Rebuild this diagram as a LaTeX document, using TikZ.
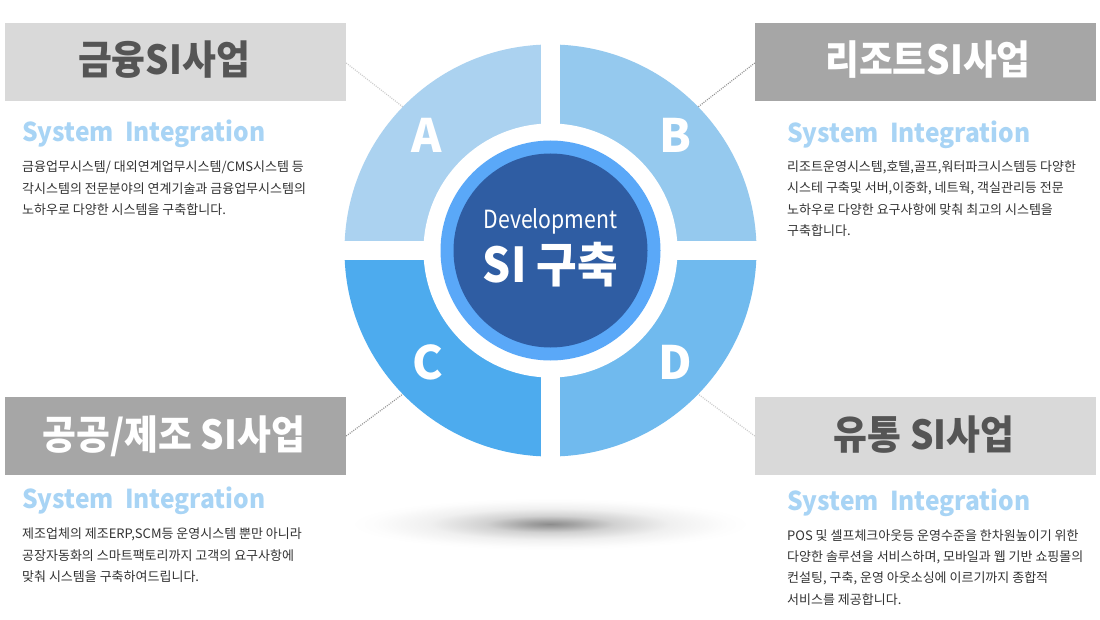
\documentclass[tikz,border=0pt]{standalone}
\usepackage{fontspec}
\setmainfont{Noto Sans CJK KR}
\newfontfamily\krfont{Noto Sans CJK KR}
\newfontfamily\titlefont[FakeStretch=0.92]{Noto Sans CJK KR}
\newfontfamily\devfont[FakeStretch=0.85]{Noto Sans CJK KR}
\newfontfamily\sifont[FakeStretch=0.92]{Noto Sans CJK KR}
\newfontfamily\headfont[FakeStretch=0.945]{Noto Sans CJK KR}
\definecolor{qA}{RGB}{171,210,240}
\definecolor{qB}{RGB}{149,201,238}
\definecolor{qC}{RGB}{77,171,238}
\definecolor{qD}{RGB}{112,186,238}
\definecolor{ringblue}{RGB}{90,168,248}
\definecolor{coreblue}{RGB}{47,93,163}
\definecolor{boxlight}{RGB}{217,217,217}
\definecolor{boxdark}{RGB}{166,166,166}
\definecolor{titledark}{RGB}{85,85,85}
\definecolor{sicolor}{RGB}{168,212,245}
\definecolor{bodytext}{RGB}{51,51,51}
\pgfdeclareradialshading{floorshadow}{\pgfpoint{0bp}{0bp}}{%
  color(0bp)=(black!45); color(3bp)=(black!36); color(8bp)=(black!18);
  color(15bp)=(black!6); color(22bp)=(black!1); color(25bp)=(white); color(50bp)=(white)}
\begin{document}
\begin{tikzpicture}[x=1pt,y=-1pt,
  titlebox/.style={minimum width=341pt,minimum height=78pt,inner sep=0pt},
  lightbox/.style={titlebox,fill=boxlight},
  darkbox/.style={titlebox,fill=boxdark},
  titletext/.style={anchor=base,inner sep=0pt,font=\titlefont\bfseries\fontsize{40}{44}\selectfont},
  sihead/.style={anchor=base west,inner sep=0pt,text=sicolor,
    font=\headfont\bfseries\fontsize{26}{30}\selectfont},
  bodyline/.style={anchor=base west,inner sep=0pt,text=bodytext,
    font=\krfont\fontsize{13}{16}\selectfont},
  letter/.style={anchor=base,inner sep=0pt,text=white,
    font=\krfont\bfseries\fontsize{46}{50}\selectfont},
  dotline/.style={dash pattern=on 1pt off 1.2pt,line width=1.2pt}]
\useasboundingbox (0,0) rectangle (1100,620);
\fill[white] (0,0) rectangle (1100,620);
% floor shadow
\shade[shading=floorshadow] (550,524) ellipse [x radius=200pt, y radius=26pt];
% title boxes
\node[lightbox] (tA) at (175.5,62) {};
\node[darkbox] (tB) at (925.5,62) {};
\node[darkbox] (tC) at (175.5,436) {};
\node[lightbox] (tD) at (925.5,436) {};
\node[titletext,text=titledark] (xA) at (164,74.2) {금융SI사업};
\node[titletext,text=white] (xB) at (928,74.2) {리조트SI사업};
\node[titletext,text=white] (xC) at (174,449) {공공/제조 SI사업};
\node[titletext,text=titledark] (xD) at (924,449) {유통 SI사업};
% circle anchors for dotted connectors
\coordinate (c) at (550.5,250.5);
\coordinate (eA) at (403,107);
\coordinate (eB) at (698,107);
\coordinate (eC) at (403,394);
\coordinate (eD) at (698,394);
\draw[dotline,black!20] ([yshift=-1pt]tA.east) -- (eA);
\draw[dotline,black!42] ([yshift=-1pt]tB.west) -- (eB);
\draw[dotline,black!42] (tC.east) -- (eC);
\draw[dotline,black!20] (tD.west) -- (eD);
% quadrants
\begin{scope}
  \clip (c) circle [radius=206pt];
  \fill[qA] (340,40) rectangle (c);
  \fill[qB] (761,40) rectangle (c);
  \fill[qC] (340,461) rectangle (c);
  \fill[qD] (761,461) rectangle (c);
\end{scope}
\fill[white] (541,42) rectangle (560,459);
\fill[white] (342,241) rectangle (759,260);
\fill[white] (c) circle [radius=127pt];
\fill[ringblue] (c) circle [radius=110pt];
\fill[coreblue] (c) circle [radius=97pt];
% letters
\node[letter] (lA) at (427,152.7) {A};
\node[letter] (lB) at (675,152.7) {B};
\node[letter] (lC) at (428,379.5) {C};
\node[letter] (lD) at (675.5,379) {D};
% center text
\node[anchor=base,inner sep=0pt,text=white,font=\devfont\fontsize{25}{30}\selectfont] (dev) at (550.5,228.3) {Development};
\node[anchor=base,inner sep=0pt,text=white,font=\sifont\bfseries\fontsize{48}{52}\selectfont] (si) at (550.5,283) {SI 구축};
% A text
\node[sihead] (hA) at (22,142) {System\ \ Integration};
\node[bodyline] (a1) at (22,172) {금융업무시스템/ 대외연계업무시스템/CMS시스템 등};
\node[bodyline] (a2) at (22,193.5) {각시스템의 전문분야의 연계기술과 금융업무시스템의};
\node[bodyline] (a3) at (22,215) {노하우로 다양한 시스템을 구축합니다.};
% B text
\node[sihead] (hB) at (787,142.3) {System\ \ Integration};
\node[bodyline] (b1) at (787,171.5) {리조트운영시스템,호텔,골프,워터파크시스템등 다양한};
\node[bodyline] (b2) at (787,193) {시스테 구축및 서버,이중화, 네트웍, 객실관리등 전문};
\node[bodyline] (b3) at (787,214.5) {노하우로 다양한 요구사항에 맞춰 최고의 시스템을};
\node[bodyline] (b4) at (787,236) {구축합니다.};
% C text
\node[sihead] (hC) at (22,508.3) {System\ \ Integration};
\node[bodyline] (c1) at (22,538.5) {제조업체의 제조ERP,SCM등 운영시스템 뿐만 아니라};
\node[bodyline] (c2) at (22,560) {공장자동화의 스마트팩토리까지 고객의 요구사항에};
\node[bodyline] (c3) at (22,581) {맞춰 시스템을 구축하여드립니다.};
% D text
\node[sihead] (hD) at (787,510) {System\ \ Integration};
\node[bodyline] (d1) at (787,540) {POS 및 셀프체크아웃등 운영수준을 한차원높이기 위한};
\node[bodyline] (d2) at (787,561.5) {다양한 솔루션을 서비스하며, 모바일과 웹 기반 쇼핑몰의};
\node[bodyline] (d3) at (787,582.5) {컨설팅, 구축, 운영 아웃소싱에 이르기까지 종합적};
\node[bodyline] (d4) at (787,604) {서비스를 제공합니다.};
\end{tikzpicture}
\end{document}
